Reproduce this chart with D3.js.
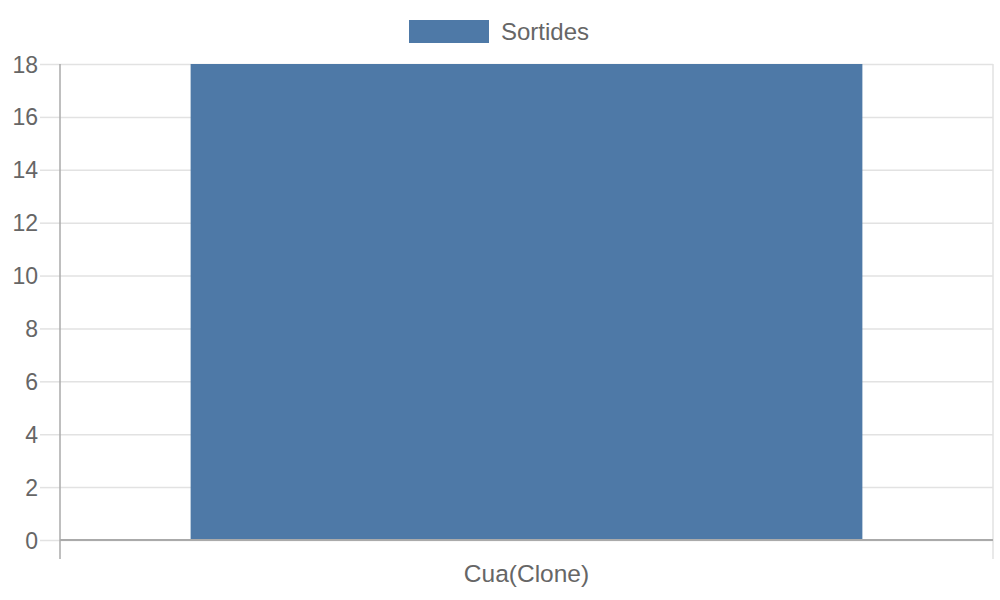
<!DOCTYPE html>
<html><head><meta charset="utf-8">
<script src="https://cdn.jsdelivr.net/npm/d3@7"></script>
<style>body{margin:0;background:#fff}svg text{font-family:"Liberation Sans",Arial,sans-serif;fill:#666}</style>
</head><body><svg id="c" width="1000" height="600"></svg>
<script>
const categories = ["Cua(Clone)"];
const seriesName = "Sortides";
const values = [18];
const yTicks = [0,2,4,6,8,10,12,14,16,18];
const color = "#4e79a7";

const svg = d3.select("#c");
const mLeft = 60, mRight = 993, mTop = 64, mBottom = 540;
const x = d3.scaleBand().domain(categories).range([mLeft, mRight]).paddingInner(0).paddingOuter(0);
const y = d3.scaleLinear().domain([0, 18]).range([mBottom, mTop]);

// gridlines
const yg = svg.append("g").attr("transform", `translate(${mLeft},0)`)
  .call(d3.axisLeft(y).tickValues(yTicks).tickSize(-(mRight-mLeft)).tickSizeOuter(0).tickFormat(""));
yg.select(".domain").remove();
yg.selectAll(".tick line").attr("stroke", "#e2e2e2").attr("stroke-width", 1.5);
// tick marks and labels
const ya = svg.append("g").attr("transform", `translate(${mLeft},0)`)
  .call(d3.axisLeft(y).tickValues(yTicks).tickSize(20).tickPadding(2));
ya.select(".domain").remove();
ya.selectAll(".tick line").attr("stroke", "#e2e2e2").attr("stroke-width", 1.5);
ya.selectAll(".tick text").attr("font-size", 23).attr("fill", "#666").attr("dy", "0.35em");

// right border
svg.append("line").attr("x1", mRight).attr("x2", mRight).attr("y1", mTop).attr("y2", 559)
  .attr("stroke", "#e2e2e2").attr("stroke-width", 1.5);

// bars
const bw = x.bandwidth() * 0.72;
svg.append("g").selectAll("rect").data(values).join("rect")
  .attr("x", (d,i) => x(categories[i]) + (x.bandwidth()-bw)/2)
  .attr("width", bw)
  .attr("y", d => y(d))
  .attr("height", d => mBottom - y(d))
  .attr("fill", color);

// axes lines
svg.append("line").attr("x1", mLeft).attr("x2", mLeft).attr("y1", mTop).attr("y2", 559)
  .attr("stroke", "#aaa").attr("stroke-width", 1.5);
svg.append("line").attr("x1", mLeft).attr("x2", mRight).attr("y1", mBottom).attr("y2", mBottom)
  .attr("stroke", "#aaa").attr("stroke-width", 2);

// x labels
const xa = svg.append("g").attr("transform", `translate(0,${mBottom})`)
  .call(d3.axisBottom(x).tickSize(0).tickPadding(0));
xa.select(".domain").remove();
xa.selectAll(".tick text").attr("font-size", 24.5).attr("fill", "#666").attr("dy", 0).attr("y", 42);

// legend
const lg = svg.append("g");
lg.append("rect").attr("x", 409).attr("y", 20).attr("width", 80).attr("height", 23).attr("fill", color);
lg.append("text").attr("x", 501).attr("y", 32).attr("dy", "0.35em").attr("font-size", 24).text(seriesName);
</script></body></html>
